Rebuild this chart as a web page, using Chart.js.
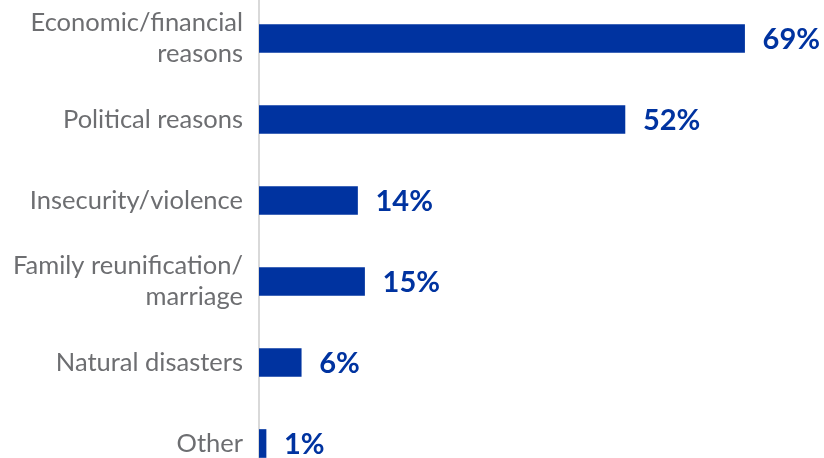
<!DOCTYPE html>
<html>
<head>
<meta charset="utf-8">
<script src="https://cdn.jsdelivr.net/npm/chart.js@4"></script>
<style>
	html, body { margin: 0; padding: 0; background: #ffffff; overflow: hidden; }
	#wrap { position: absolute; left: 0; top: -2.5px; width: 824px; height: 486px; }
</style>
</head>
<body>
<div id="wrap"><canvas id="reasons-chart"></canvas></div>
<script>
const categories = [
	["Economic/financial", "reasons"]
	, "Political reasons"
	, "Insecurity/violence"
	, ["Family reunification/", "marriage"]
	, "Natural disasters"
	, "Other"
];
const shares = [69, 52, 14, 15, 6, 1];

const barBlue = "#0033a0";
const labelGrey = "#6d6e71";

// draws the bold "NN%" next to each bar
const valueLabels = {
	id: "valueLabels"
	, afterDatasetsDraw(chart) {
		const ctx = chart.ctx;
		const meta = chart.getDatasetMeta(0);
		ctx.save();
		ctx.font = "bold 29px Lato";
		ctx.fillStyle = barBlue;
		ctx.textAlign = "left";
		ctx.textBaseline = "middle";
		meta.data.forEach((bar, i) => {
			ctx.fillText(shares[i] + "%", bar.x + 18, bar.y + 1);
		});
		ctx.restore();
	}
};

Chart.defaults.font.family = "Lato";

new Chart(document.getElementById("reasons-chart"), {
	type: "bar"
	, data: {
		labels: categories
		, datasets: [{
			data: shares
			, backgroundColor: barBlue
			, barThickness: 28
		}]
	}
	, options: {
		indexAxis: "y"
		, responsive: true
		, maintainAspectRatio: false
		, animation: false
		, layout: { padding: { right: 2 } }
		, plugins: {
			legend: { display: false }
			, tooltip: { enabled: false }
		}
		, scales: {
			x: {
				display: false
				, min: 0
				, max: 80
			}
			, y: {
				afterFit(scale) {
					scale.width = 259;
					scale.paddingTop = 0;
					scale.paddingBottom = 0;
				}
				, grid: { display: false }
				, border: { display: true, color: "#d9d9d9", width: 2 }
				, ticks: {
					color: labelGrey
					, padding: 8
					, font: { size: 25.5, lineHeight: 1.2 }
				}
			}
		}
	}
	, plugins: [valueLabels]
});
</script>
</body>
</html>
